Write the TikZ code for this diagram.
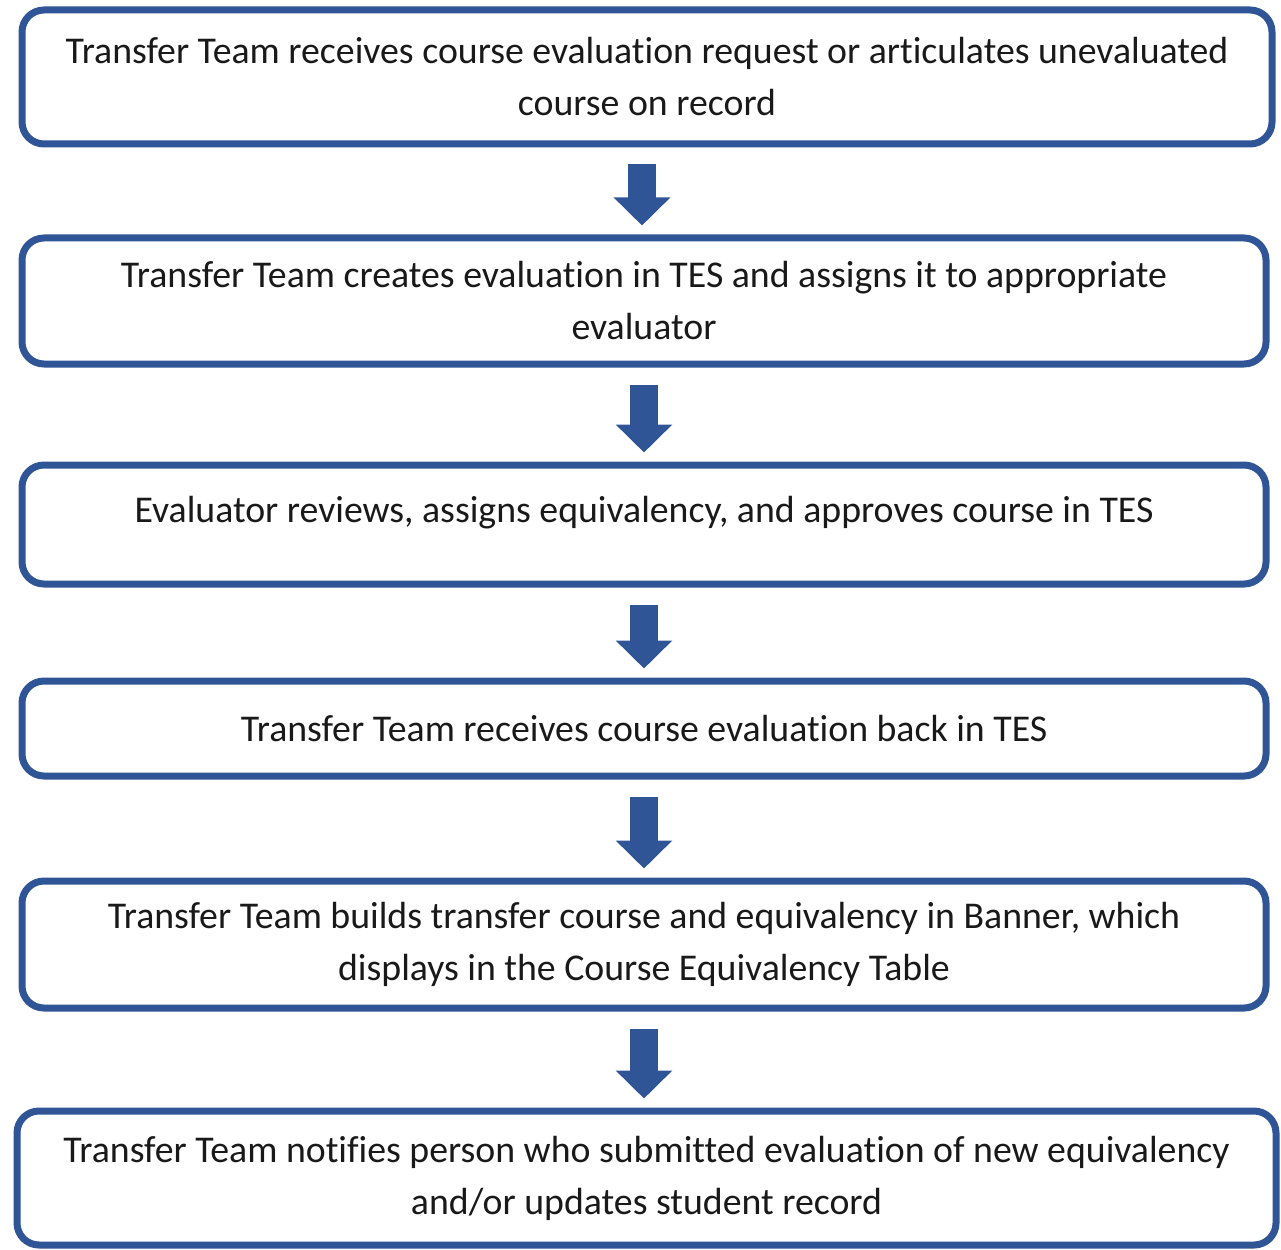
\documentclass[tikz,border=0pt]{standalone}
\usepackage{fontspec}
\setmainfont{Carlito}[Ligatures=NoCommon]
\usetikzlibrary{arrows.meta}
\definecolor{boxblue}{RGB}{47,85,151}
\definecolor{txt}{RGB}{25,25,25}
\tikzset{
  stepbox/.style={draw=boxblue, line width=7pt, rounded corners=22pt, fill=white,
    align=center, text=txt, inner sep=0pt,
    font=\fontsize{37.8}{52}\selectfont},
  blockarrow/.style={draw=boxblue, line width=28pt,
    -{Triangle[width=55pt,length=28pt]}}
}
\begin{document}
\begin{tikzpicture}[x=1pt,y=-1pt]
\useasboundingbox (0,0) rectangle (1281,1249);
\node[stepbox, minimum width=1250pt, minimum height=134pt] (b1) at (647,77)
  {Transfer Team receives course evaluation request or articulates unevaluated\\course on record};
\node[stepbox, minimum width=1244pt, minimum height=126pt] (b2) at (644,301)
  {Transfer Team creates evaluation in TES and assigns it to appropriate\\evaluator};
\node[stepbox, minimum width=1244pt, minimum height=119pt, text depth=30pt] (b3) at (644,524.5)
  {Evaluator reviews, assigns equivalency, and approves course in TES};
\node[stepbox, minimum width=1244pt, minimum height=95pt] (b4) at (644,728.5)
  {Transfer Team receives course evaluation back in TES};
\node[stepbox, minimum width=1244pt, minimum height=127pt] (b5) at (644,944.5)
  {Transfer Team builds transfer course and equivalency in Banner, which\\displays in the Course Equivalency Table};
\node[stepbox, minimum width=1259pt, minimum height=134pt] (b6) at (646.5,1178)
  {Transfer Team notifies person who submitted evaluation of new equivalency\\and/or updates student record};
\draw[blockarrow] ([xshift=-5pt,yshift=-17pt]b1.south) -- ([xshift=-2pt,yshift=9pt]b2.north);
\draw[blockarrow] ([yshift=-17pt]b2.south) -- ([yshift=9pt]b3.north);
\draw[blockarrow] ([yshift=-17pt]b3.south) -- ([yshift=9pt]b4.north);
\draw[blockarrow] ([yshift=-17pt]b4.south) -- ([yshift=9pt]b5.north);
\draw[blockarrow] ([yshift=-17pt]b5.south) -- ([xshift=-2.5pt,yshift=9pt]b6.north);
\end{tikzpicture}
\end{document}
